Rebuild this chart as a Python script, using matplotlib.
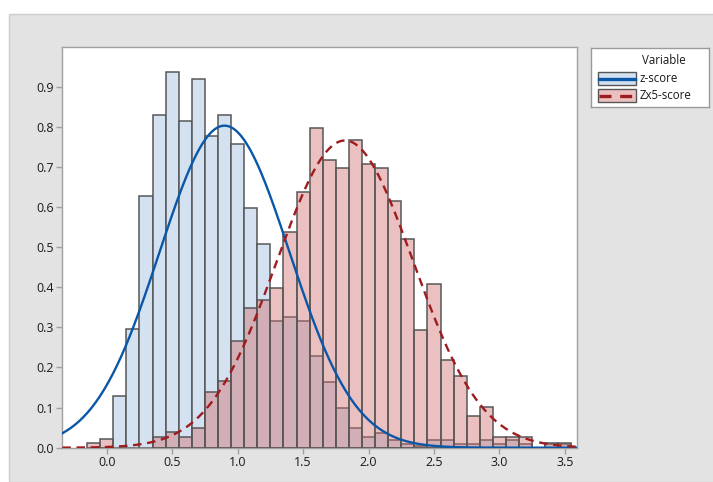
import numpy as np
import matplotlib
matplotlib.use("Agg")
from matplotlib import pyplot as plt
from matplotlib.patches import Rectangle

plt.rcParams['font.family'] = ['Open Sans', 'DejaVu Sans']

# histogram bins (midpoints), density per bin
bin_mids = [-0.1, 0.0, 0.1, 0.2, 0.3, 0.4, 0.5, 0.6, 0.7, 0.8, 0.9, 1.0,
            1.1, 1.2, 1.3, 1.4, 1.5, 1.6, 1.7, 1.8, 1.9, 2.0, 2.1, 2.2,
            2.3, 2.4, 2.5, 2.6, 2.7, 2.8, 2.9, 3.0, 3.1, 3.2, 3.3, 3.4, 3.5]
bin_width = 0.1

z_density = [0.0, 0.0, 0.128, 0.295, 0.627, 0.830, 0.936, 0.815, 0.918, 0.778,
             0.830, 0.756, 0.597, 0.508, 0.317, 0.327, 0.317, 0.228, 0.164,
             0.098, 0.048, 0.027, 0.037, 0.018, 0.009, 0.005, 0.018, 0.018,
             0.009, 0.009, 0.018, 0.009, 0.018, 0.009, 0.0, 0.009, 0.009]

zx5_density = [0.012, 0.022, 0.0, 0.0, 0.0, 0.027, 0.038, 0.027, 0.048, 0.139,
               0.166, 0.267, 0.347, 0.367, 0.397, 0.537, 0.637, 0.797, 0.716,
               0.697, 0.766, 0.707, 0.697, 0.616, 0.519, 0.294, 0.408, 0.219,
               0.178, 0.079, 0.101, 0.026, 0.026, 0.026, 0.0, 0.012, 0.012]

# fitted normal curves (mean, stdev)
z_fit = (0.90, 0.497)
zx5_fit = (1.82, 0.521)

series_names = ['z-score', 'Zx5-score']
x_ticks = [0.0, 0.5, 1.0, 1.5, 2.0, 2.5, 3.0, 3.5]
y_ticks = [0.0, 0.1, 0.2, 0.3, 0.4, 0.5, 0.6, 0.7, 0.8, 0.9]

BLUE_FILL = '#d3e1f0'
RED_FILL = (209 / 255, 109 / 255, 109 / 255, 0.43)
BAR_EDGE = '#575757'
BLUE_LINE = '#0a57a8'
RED_LINE = '#9e1b1e'


def normal_pdf(x, mu, sd):
    return np.exp(-0.5 * ((x - mu) / sd) ** 2) / (sd * np.sqrt(2 * np.pi))


def draw_bars(ax, heights, face, zorder):
    mids = [m for m, h in zip(bin_mids, heights) if h > 0]
    hts = [h for h in heights if h > 0]
    ax.bar(mids, hts, width=bin_width, color=face, edgecolor=BAR_EDGE,
           linewidth=1.1, zorder=zorder)


def draw_legend(fig):
    W, H = 713, 482
    left, top, right, bottom = 591, 48, 709, 107
    lax = fig.add_axes([left / W, 1 - bottom / H, (right - left) / W, (bottom - top) / H])
    lax.set_xlim(0, right - left)
    lax.set_ylim(bottom - top, 0)
    lax.set_xticks([])
    lax.set_yticks([])
    for s in lax.spines.values():
        s.set_color('#9a9a9a')
        s.set_linewidth(1)
    lax.text(73, 12, 'Variable', ha='center', va='center', fontsize=8.3, color='#1a1a1a')

    rows = [(30.5, BLUE_FILL, BLUE_LINE, '-'), (47.5, RED_FILL, RED_LINE, '--')]
    for name, (yc, face, lc, ls) in zip(series_names, rows):
        lax.add_patch(Rectangle((7, yc - 6.5), 38, 13, facecolor=face,
                                edgecolor=BAR_EDGE, linewidth=1))
        ln, = lax.plot([8, 44], [yc, yc], color=lc, linewidth=2.4, linestyle=ls)
        if ls == '--':
            ln.set_dashes((3.6, 2.6))
        lax.text(49, yc, name, ha='left', va='center', fontsize=8.3, color='#1a1a1a')


def main():
    W, H = 713, 482
    fig = plt.figure(figsize=(W / 100, H / 100), dpi=100, facecolor='white')
    fig.patches.append(Rectangle((9 / W, 0), 1, (H - 14) / H, transform=fig.transFigure,
                                 facecolor='#e3e3e3', edgecolor='#cdcdcd',
                                 linewidth=1, zorder=-10))

    ax = fig.add_axes([62.3 / W, (H - 447.7) / H, (576.7 - 62.3) / W, (447.7 - 47.3) / H])
    ax.set_facecolor('white')

    draw_bars(ax, z_density, BLUE_FILL, 2)
    draw_bars(ax, zx5_density, RED_FILL, 3)

    xmin, xmax = -0.339, 3.59
    xs = np.linspace(xmin, xmax, 500)
    ax.plot(xs, normal_pdf(xs, *z_fit), color=BLUE_LINE, linewidth=1.7, zorder=4)
    red, = ax.plot(xs, normal_pdf(xs, *zx5_fit), color=RED_LINE, linewidth=1.7, zorder=5)
    red.set_dashes((3.6, 2.4))

    ax.set_xlim(xmin, xmax)
    ax.set_ylim(0, 0.998)
    ax.set_xticks(x_ticks)
    ax.set_xticklabels(['%.1f' % v for v in x_ticks])
    ax.set_yticks(y_ticks)
    ax.set_yticklabels(['%.1f' % v for v in y_ticks])
    ax.tick_params(axis='both', direction='out', length=4, width=1, color='#a0a0a0',
                   labelsize=9, labelcolor='#1a1a1a', pad=2)
    for s in ax.spines.values():
        s.set_color('#a0a0a0')
        s.set_linewidth(1)

    draw_legend(fig)
    fig.savefig('out.png', dpi=100, facecolor=fig.get_facecolor())


main()
